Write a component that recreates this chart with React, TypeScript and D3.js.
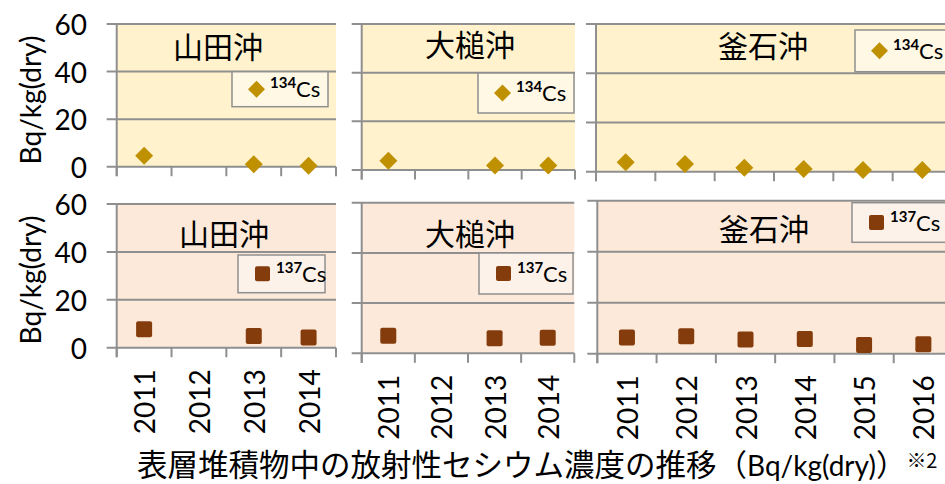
import React from "react";
import * as d3 from "d3";

// Survey years per station
const yearsShort = ["2011", "2012", "2013", "2014"];
const yearsLong = ["2011", "2012", "2013", "2014", "2015", "2016"];
const stations = ["山田沖", "大槌沖", "釜石沖"];
const yTicks = [0, 20, 40, 60];

// Cs-134 concentrations in surface sediment (Bq/kg dry); null = no survey
const cs134Yamada = [4.6, null, 1.0, 0.4];
const cs134Otsuchi = [3.8, null, 1.8, 1.8];
const cs134Kamaishi = [3.8, 3.1, 1.6, 1.1, 0.7, 0.7];

// Cs-137 concentrations in surface sediment (Bq/kg dry)
const cs137Yamada = [7.7, null, 4.9, 4.3];
const cs137Otsuchi = [7.0, null, 6.0, 6.2];
const cs137Kamaishi = [6.4, 6.8, 5.6, 5.8, 3.4, 3.7];

const LATIN = "Lato, 'Noto Sans', sans-serif";
const CJK = "'Noto Sans CJK JP', sans-serif";
const GRID = "#8f8f8f";

type Series = "134" | "137";

interface PanelLayout {
  x0: number;
  x1: number;
  yTop: number;
  yBottom: number;
  titleX: number;
  titleY: number;
  legend: { x: number; y: number; w: number; h: number };
}

const topRow: PanelLayout[] = [
  { x0: 116.7, x1: 336, yTop: 24, yBottom: 166.7, titleX: 218, titleY: 45, legend: { x: 232, y: 71.7, w: 96, h: 35 } },
  { x0: 361.7, x1: 575, yTop: 24, yBottom: 170, titleX: 470, titleY: 43, legend: { x: 478, y: 73, w: 96, h: 40 } },
  { x0: 596, x1: 952, yTop: 24, yBottom: 171.7, titleX: 763, titleY: 44, legend: { x: 855, y: 30, w: 100, h: 41.7 } },
];

const bottomRow: PanelLayout[] = [
  { x0: 116.7, x1: 336, yTop: 204, yBottom: 347.7, titleX: 224, titleY: 232, legend: { x: 238, y: 255, w: 87, h: 37.7 } },
  { x0: 361.7, x1: 574.3, yTop: 202.7, yBottom: 353.3, titleX: 470, titleY: 232, legend: { x: 479, y: 253, w: 94, h: 41 } },
  { x0: 597.3, x1: 953, yTop: 200.7, yBottom: 353.7, titleX: 764, titleY: 227, legend: { x: 852, y: 202.7, w: 100, h: 39.6 } },
];

function Marker({ kind, cx, cy, size }: { kind: Series; cx: number; cy: number; size: number }) {
  if (kind === "134") {
    const r = size / 2;
    return (
      <path
        d={`M${cx},${cy - r}L${cx + r},${cy}L${cx},${cy + r}L${cx - r},${cy}Z`}
        fill="#BF9000"
      />
    );
  }
  return (
    <rect x={cx - size / 2} y={cy - size / 2} width={size} height={size} rx={2} fill="#843C0C" />
  );
}

function Panel({
  layout,
  years,
  values,
  kind,
  station,
  showYLabels,
  showXLabels,
}: {
  layout: PanelLayout;
  years: string[];
  values: (number | null)[];
  kind: Series;
  station: string;
  showYLabels: boolean;
  showXLabels: boolean;
}) {
  const x = d3.scaleBand<string>().domain(years).range([layout.x0, layout.x1]).padding(0);
  const y = d3.scaleLinear().domain([0, 60]).range([layout.yBottom, layout.yTop]);
  const bg = kind === "134" ? "#FFF2CC" : "#FDE9D9";
  const legendBg = kind === "134" ? "#FFF8E5" : "#FDF2EA";
  const boundaries = [...years.map((yr) => x(yr) as number), layout.x1];
  const tickLen = 9.5;
  const { legend } = layout;

  return (
    <g>
      <rect x={layout.x0} y={y(60)} width={layout.x1 - layout.x0} height={y(0) - y(60)} fill={bg} />
      {yTicks.map((t) => (
        <line key={t} x1={layout.x0 - 10} x2={layout.x1} y1={y(t)} y2={y(t)} stroke={GRID} strokeWidth={2} />
      ))}
      <line x1={layout.x0} x2={layout.x0} y1={y(60)} y2={y(0) + tickLen} stroke={GRID} strokeWidth={2} />
      {boundaries.map((bx, i) => (
        <line key={i} x1={bx} x2={bx} y1={y(0)} y2={y(0) + tickLen} stroke={GRID} strokeWidth={2} />
      ))}
      {showYLabels &&
        yTicks.map((t) => (
          <text
            key={t}
            x={87}
            y={y(t)}
            textAnchor="end"
            dominantBaseline="central"
            fontFamily={LATIN}
            fontSize={28}
            fill="#000"
          >
            {t}
          </text>
        ))}
      {showXLabels &&
        years.map((yr) => {
          const cx = (x(yr) as number) + x.bandwidth() / 2;
          const ty = y(0) + 21.5;
          return (
            <text
              key={yr}
              transform={`translate(${cx},${ty}) rotate(-90)`}
              textAnchor="end"
              dominantBaseline="central"
              fontFamily={LATIN}
              fontSize={28}
              fill="#000"
            >
              {yr}
            </text>
          );
        })}
      <text
        x={layout.titleX}
        y={layout.titleY}
        textAnchor="middle"
        dominantBaseline="central"
        fontFamily={CJK}
        fontSize={30}
        fill="#000"
      >
        {station}
      </text>
      <rect
        x={legend.x}
        y={legend.y}
        width={legend.w}
        height={legend.h}
        fill={legendBg}
        stroke={GRID}
        strokeWidth={1.5}
      />
      <Marker kind={kind} cx={legend.x + 24.5} cy={legend.y + legend.h / 2} size={kind === "134" ? 17 : 15} />
      <text x={legend.x + 38} y={legend.y + legend.h / 2 + 8} fontFamily={LATIN} fill="#000">
        <tspan fontSize={15} fontWeight={700} dy={-9}>
          {kind}
        </tspan>
        <tspan fontSize={22} dy={9}>
          Cs
        </tspan>
      </text>
      {values.map((v, i) =>
        v == null ? null : (
          <Marker
            key={i}
            kind={kind}
            cx={(x(years[i]) as number) + x.bandwidth() / 2}
            cy={y(v)}
            size={kind === "134" ? 18 : 16}
          />
        )
      )}
    </g>
  );
}

export default function App() {
  const top134 = [cs134Yamada, cs134Otsuchi, cs134Kamaishi];
  const bottom137 = [cs137Yamada, cs137Otsuchi, cs137Kamaishi];
  const yearSets = [yearsShort, yearsShort, yearsLong];

  return (
    <svg
      width={945}
      height={484}
      style={{ position: "absolute", left: 0, top: 0, display: "block", background: "#fff" }}
    >
      {topRow.map((layout, i) => (
        <Panel
          key={`t${i}`}
          layout={layout}
          years={yearSets[i]}
          values={top134[i]}
          kind="134"
          station={stations[i]}
          showYLabels={i === 0}
          showXLabels={false}
        />
      ))}
      {bottomRow.map((layout, i) => (
        <Panel
          key={`b${i}`}
          layout={layout}
          years={yearSets[i]}
          values={bottom137[i]}
          kind="137"
          station={stations[i]}
          showYLabels={i === 0}
          showXLabels={true}
        />
      ))}
      {[100, 280].map((cy) => (
        <text
          key={cy}
          transform={`translate(30,${cy}) rotate(-90)`}
          textAnchor="middle"
          dominantBaseline="central"
          fontFamily={LATIN}
          fontSize={28}
          fill="#000"
        >
          Bq/kg(dry)
        </text>
      ))}
      <text x={137} y={476} fill="#000">
        <tspan fontFamily={CJK} fontSize={30.5}>
          表層堆積物中の放射性セシウム濃度の推移（
        </tspan>
        <tspan fontFamily={LATIN} fontSize={28}>
          Bq/kg(dry)
        </tspan>
        <tspan fontFamily={CJK} fontSize={30.5}>
          ）
        </tspan>
        <tspan fontFamily={CJK} fontSize={20} dy={-8}>
          ※2
        </tspan>
      </text>
    </svg>
  );
}
